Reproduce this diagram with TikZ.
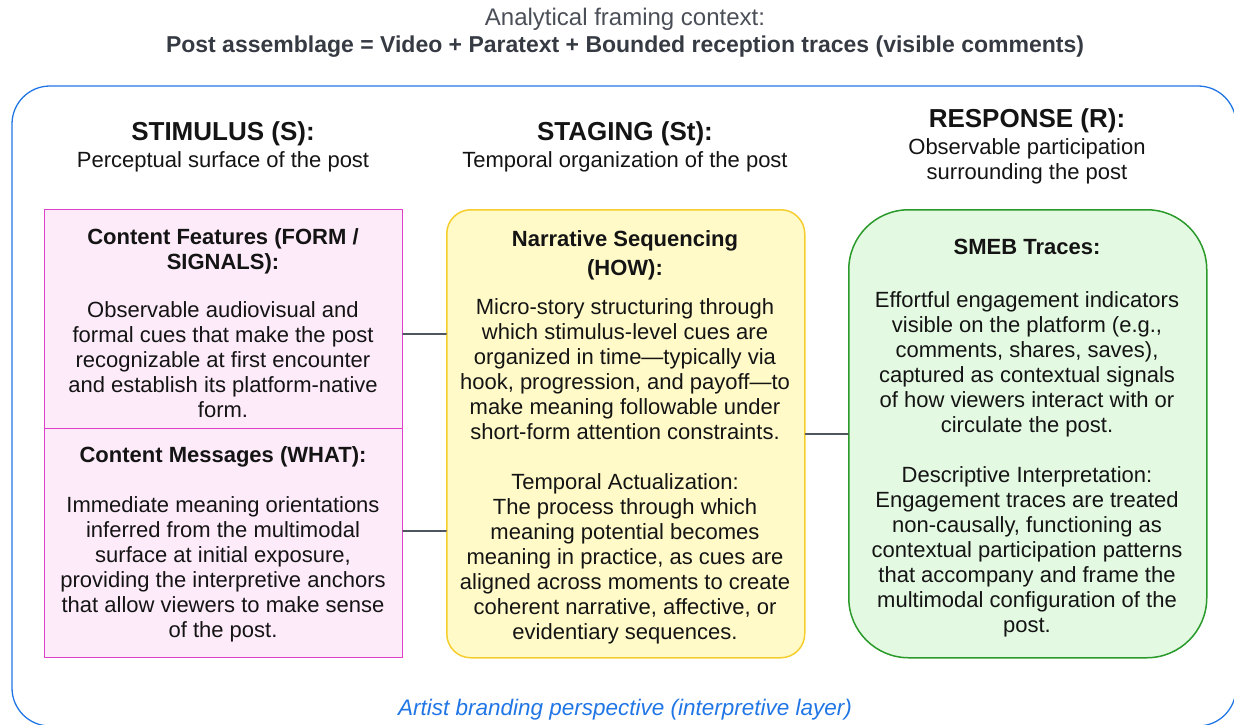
\documentclass[tikz,border=0pt]{standalone}
\usepackage{fontspec}
\setmainfont{Liberation Sans}
\usepackage{tikz}
\definecolor{outerblue}{HTML}{2176E6}
\definecolor{featline}{HTML}{DD3FC8}
\definecolor{featfill}{HTML}{FDEBFA}
\definecolor{narrline}{HTML}{F5CE2E}
\definecolor{narrfill}{HTML}{FFFAC8}
\definecolor{smebline}{HTML}{2A9A2A}
\definecolor{smebfill}{HTML}{E3F9E1}
\definecolor{linkgray}{HTML}{50565F}
\definecolor{titlegray}{HTML}{4A4F57}
\definecolor{titledark}{HTML}{363B43}
\definecolor{ink}{HTML}{141414}

\begin{document}
\begin{tikzpicture}[line cap=round,line join=round,x=1pt,y=-1pt,
	every node/.style={inner sep=0pt,align=center,text=ink},
	body/.style={font=\fontsize{22}{25}\selectfont},
	bodybf/.style={font=\fontsize{22}{25}\selectfont\bfseries},
	head/.style={font=\fontsize{26}{28}\selectfont\bfseries},
	featbox/.style={draw=featline,fill=featfill,line width=1.2pt,minimum width=358pt,anchor=north west},
	narrbox/.style={draw=narrline,fill=narrfill,line width=1.5pt,rounded corners=24pt,minimum width=358pt,minimum height=448pt,anchor=north west},
	smebbox/.style={draw=smebline,fill=smebfill,line width=1.5pt,rounded corners=60pt,minimum width=358pt,minimum height=448pt,anchor=north west},
	link/.style={draw=linkgray,line width=2pt}]
	\useasboundingbox (0,0) rectangle (1234,724);
	% outer frame
	\draw[outerblue,line width=1.3pt,rounded corners=38pt] (12,86) rectangle (1236,726);
	\node[text=titlegray,font=\fontsize{24}{27}\selectfont] (ctx) at (625,19.5) {Analytical framing context:};
	\node[text=titledark,font=\fontsize{23}{27}\selectfont\bfseries] (ctxeq) at (625,47) {Post assemblage = Video + Paratext + Bounded reception traces (visible comments)};
	\node[text=outerblue,font=\fontsize{22.5}{25}\selectfont\itshape] (persp) at (625,710) {Artist branding perspective (interpretive layer)};
	% column heads
	\node[head] (stimhead) at (223,134) {STIMULUS (S):};
	\node[body] (stimsub) at (223,162) {Perceptual surface of the post};
	\node[head] (staghead) at (625,134) {STAGING (St):};
	\node[body] (stagsub) at (625,162) {Temporal organization of the post};
	\node[head] (resphead) at (1027,121) {RESPONSE (R):};
	\node[body] (respsub) at (1027,161.5) {Observable participation\\surrounding the post};
	% boxes
	\node[featbox,minimum height=219pt] (feat) at (44,209) {};
	\node[featbox,minimum height=229pt] (mess) at (44,428) {};
	\node[narrbox] (narr) at (446,209) {};
	\node[smebbox] (smeb) at (848,209) {};
	% texts
	\node[bodybf] (feattitle) at (223,251) {Content Features (FORM /\\SIGNALS):};
	\node[body] (feattext) at (223,360) {Observable audiovisual and\\formal cues that make the post\\recognizable at first encounter\\and establish its platform-native\\form.};
	\node[bodybf] (messtitle) at (223,456.5) {Content Messages (WHAT):};
	\node[body] (messtext) at (223,569.5) {Immediate meaning orientations\\inferred from the multimodal\\surface at initial exposure,\\providing the interpretive anchors\\that allow viewers to make sense\\of the post.};
	\node[bodybf,font=\fontsize{22}{29}\selectfont\bfseries] (narrtitle) at (625,255.5) {Narrative Sequencing\\(HOW):};
	\node[body] (narrtext) at (625,471) {Micro-story structuring through\\which stimulus-level cues are\\organized in time---typically via\\hook, progression, and payoff---to\\make meaning followable under\\short-form attention constraints.\\[25pt]Temporal Actualization:\\The process through which\\meaning potential becomes\\meaning in practice, as cues are\\aligned across moments to create\\coherent narrative, affective, or\\evidentiary sequences.};
	\node[bodybf] (smebtitle) at (1027,246.5) {SMEB Traces:};
	\node[body] (smebtext) at (1027,464.5) {Effortful engagement indicators\\visible on the platform (e.g.,\\comments, shares, saves),\\captured as contextual signals\\of how viewers interact with or\\circulate the post.\\[25pt]Descriptive Interpretation:\\Engagement traces are treated\\non-causally, functioning as\\contextual participation patterns\\that accompany and frame the\\multimodal configuration of the\\post.};
	% connectors
	\coordinate (featout) at ([yshift=-14.5pt]feat.east);
	\coordinate (messout) at ([yshift=12.5pt]mess.east);
	\draw[link] (featout) -- (featout -| narr.west);
	\draw[link] (messout) -- (messout -| narr.west);
	\draw[link] (narr.east) -- (smeb.west);
\end{tikzpicture}
\end{document}
